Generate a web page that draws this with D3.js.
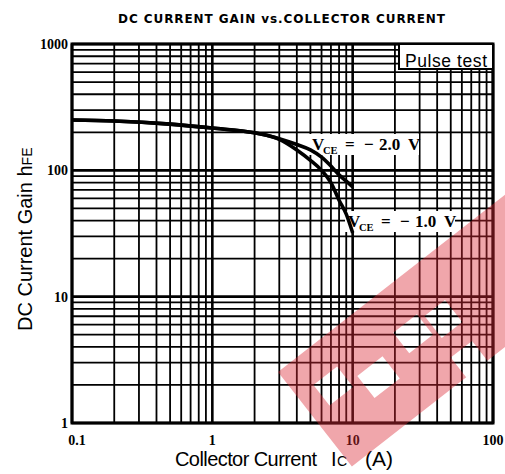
<!DOCTYPE html>
<html>
<head>
<meta charset="utf-8">
<script src="https://cdn.jsdelivr.net/npm/d3@7"></script>
<style>
  body { margin: 0; background: #fff; }
  svg text { fill: #000; }
</style>
</head>
<body>
<svg id="chart"></svg>
<script>
// values
const icVce2 = [0.1, 0.2, 0.5, 1, 2, 3, 4, 5, 6, 7, 8, 9, 10];
const hfeVce2 = [250, 246, 232, 216, 198, 178, 160, 145, 127, 108, 92, 82, 74];
const icVce1 = [0.1, 0.2, 0.5, 1, 2, 3, 4, 5, 6, 7, 8, 9, 10];
const hfeVce1 = [250, 246, 232, 216, 198, 176, 145, 120, 100, 80, 58, 45, 32];
const xTickLabels = ["0.1", "1", "10", "100"];
const yTickLabels = ["1", "10", "100", "1000"];

const width = 505, height = 474;
const plotL = 72, plotR = 493, plotT = 44, plotB = 423;

const svg = d3.select("#chart")
    .attr("width", width)
    .attr("height", height);

const x = d3.scaleLog().domain([0.1, 100]).range([plotL, plotR]);
const y = d3.scaleLog().domain([1, 1000]).range([plotB, plotT]);

const isDecade = d => Math.abs(Math.log10(d) - Math.round(Math.log10(d))) < 1e-6;

// grid: every 1..9 of each decade
const grid = svg.append("g");
grid.selectAll("line.v")
    .data(x.ticks())
    .enter().append("line")
    .attr("x1", d => x(d)).attr("x2", d => x(d))
    .attr("y1", plotT).attr("y2", plotB)
    .attr("stroke", "#000")
    .attr("stroke-width", d => isDecade(d) ? 2.6 : 1.8);
grid.selectAll("line.h")
    .data(y.ticks())
    .enter().append("line")
    .attr("y1", d => y(d)).attr("y2", d => y(d))
    .attr("x1", plotL).attr("x2", plotR)
    .attr("stroke", "#000")
    .attr("stroke-width", d => isDecade(d) ? 2.6 : 1.8);

// frame
svg.append("rect")
    .attr("x", plotL).attr("y", plotT)
    .attr("width", plotR - plotL).attr("height", plotB - plotT)
    .attr("fill", "none").attr("stroke", "#000").attr("stroke-width", 3);

// "Pulse test" box
svg.append("rect")
    .attr("x", 399).attr("y", plotT).attr("width", plotR - 399).attr("height", 25)
    .attr("fill", "#fff").attr("stroke", "#000").attr("stroke-width", 2);
svg.append("text")
    .attr("x", 405).attr("y", 67)
    .attr("textLength", 82)
    .style("font-family", "Liberation Sans, Arial, sans-serif")
    .style("font-size", "17.5px")
    .text("Pulse test");

// curve labels with white backing
const labelFont = "Liberation Serif, Times New Roman, serif";
function vceLabel(xp, yp, val) {
  const g = svg.append("g")
      .style("font-family", labelFont).style("font-weight", "bold");
  g.append("rect").attr("x", xp - 3).attr("y", yp - 16).attr("width", 110).attr("height", 21).attr("fill", "#fff");
  const parts = [
    ["V", 0, 0, 17], ["CE", 11, 4, 10.5], ["=", 33, 0, 17],
    ["\u2212", 52, 0, 17], [val, 67, 0, 17], ["V", 96, 0, 17]
  ];
  g.selectAll("text").data(parts).enter().append("text")
      .attr("x", d => xp + d[1]).attr("y", d => yp + d[2])
      .style("font-size", d => d[3] + "px")
      .text(d => d[0]);
}
vceLabel(312, 150, "2.0");
vceLabel(348, 227, "1.0");

// curves
const line = d3.line()
    .x(d => x(d[0]))
    .y(d => y(d[1]))
    .curve(d3.curveMonotoneX);
[[icVce2, hfeVce2], [icVce1, hfeVce1]].forEach(([ic, hfe]) => {
  svg.append("path")
      .datum(ic.map((v, i) => [v, hfe[i]]))
      .attr("d", line)
      .attr("fill", "none")
      .attr("stroke", "#000")
      .attr("stroke-width", 3.6);
});

// tick labels
const tickFont = "Liberation Serif, Times New Roman, serif";
svg.append("g").selectAll("text")
    .data(xTickLabels)
    .enter().append("text")
    .attr("x", (d, i) => i === 0 ? x(+d) + 5 : x(+d))
    .attr("y", 445)
    .attr("text-anchor", "middle")
    .style("font-family", tickFont).style("font-weight", "bold").style("font-size", "14px")
    .text(d => d);
svg.append("g").selectAll("text")
    .data(yTickLabels)
    .enter().append("text")
    .attr("x", 68)
    .attr("y", d => y(+d) + 5)
    .attr("text-anchor", "end")
    .style("font-family", tickFont).style("font-weight", "bold").style("font-size", "14px")
    .text(d => d);

// title
svg.append("text")
    .attr("x", 118).attr("y", 23)
    .attr("textLength", 327)
    .style("font-family", "DejaVu Sans, sans-serif")
    .style("font-weight", "bold")
    .style("font-size", "12px")
    .text("DC CURRENT GAIN vs.COLLECTOR CURRENT");

// axis titles
const yt = svg.append("text")
    .attr("transform", "translate(32,331) rotate(-90)")
    .style("font-family", "Liberation Sans, Arial, sans-serif")
    .style("font-size", "20px");
yt.append("tspan").text("DC Current Gain  h");
yt.append("tspan").style("font-size", "14px").text("FE");

const xtitle = svg.append("g")
    .style("font-family", "Liberation Sans, Arial, sans-serif");
xtitle.append("text").attr("x", 175).attr("y", 466).attr("textLength", 142)
    .style("font-size", "20px").text("Collector Current");
xtitle.append("text").attr("x", 331).attr("y", 466)
    .style("font-size", "20px").text("I");
xtitle.append("text").attr("x", 337).attr("y", 466)
    .style("font-size", "14px").text("C");
xtitle.append("text").attr("x", 365).attr("y", 466)
    .style("font-size", "21px").text("(A)");

// red watermark overlay of the source scan
const holes = [[20, 32, 30, 26], [60, 52, 32, 28], [115, 40, 30, 26], [150, 46, 26, 28], [145, 95, 27, 25]];
let wm = "M0,0H360V120H0Z";
holes.forEach(([hx, hy, hw, hh]) => { wm += `M${hx},${hy}h${hw}v${hh}h${-hw}Z`; });
svg.append("path")
    .attr("transform", "translate(278,372) rotate(-38)")
    .attr("d", wm)
    .attr("fill-rule", "evenodd")
    .attr("fill", "#dc2a36")
    .attr("opacity", 0.42);
</script>
</body>
</html>
